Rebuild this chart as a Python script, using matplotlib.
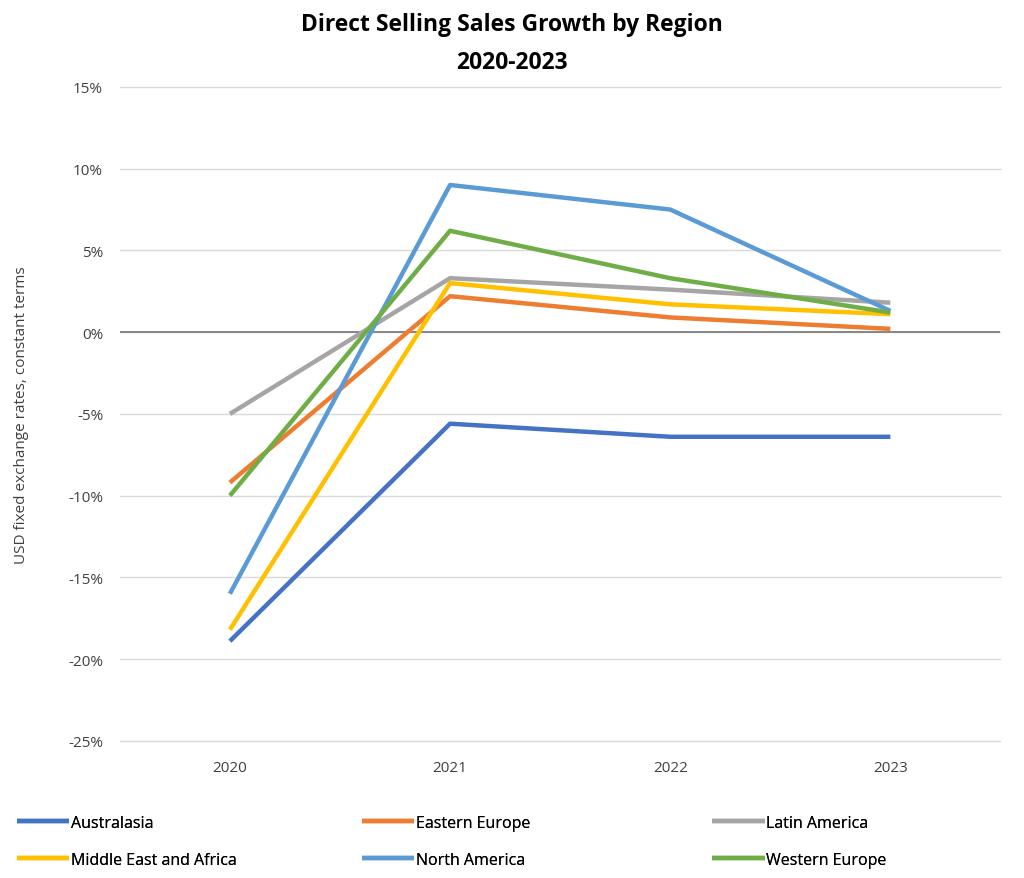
import matplotlib.pyplot as plt
from matplotlib.ticker import FuncFormatter

plt.rcParams['font.family'] = ['Open Sans', 'DejaVu Sans']

years = ["2020", "2021", "2022", "2023"]
australasia = [-18.9, -5.6, -6.4, -6.4]
eastern_europe = [-9.2, 2.2, 0.9, 0.2]
latin_america = [-5.0, 3.3, 2.6, 1.8]
middle_east_africa = [-18.2, 3.0, 1.7, 1.1]
north_america = [-16.0, 9.0, 7.5, 1.3]
western_europe = [-10.0, 6.2, 3.3, 1.2]

series = [
    ("Australasia", australasia, "#4472C4"),
    ("Eastern Europe", eastern_europe, "#ED7D31"),
    ("Latin America", latin_america, "#A5A5A5"),
    ("Middle East and Africa", middle_east_africa, "#FFC000"),
    ("North America", north_america, "#5B9BD5"),
    ("Western Europe", western_europe, "#70AD47"),
]

fig = plt.figure(figsize=(10.24, 8.79), dpi=100)
ax = fig.add_axes([0.117, 0.156, 0.86, 0.744])

x = list(range(len(years)))
lines = {}
for name, vals, color in series:
    ln, = ax.plot(x, vals, color=color, lw=3.2, label=name, solid_capstyle="butt")
    lines[name] = ln

ax.set_xlim(-0.5, 3.5)
ax.set_ylim(-25, 15)
ax.set_yticks(range(-25, 16, 5))
ax.yaxis.set_major_formatter(FuncFormatter(lambda v, p: f"{int(v)}%"))
ax.set_xticks(x)
ax.set_xticklabels(years)
ax.grid(axis="y", color="#D9D9D9", lw=1, clip_on=False)
ax.set_axisbelow(True)
ax.axhline(0, color="#7F7F7F", lw=1.3, zorder=1)
for s in ax.spines.values():
    s.set_visible(False)
ax.tick_params(length=0, labelsize=11, colors="#404040", pad=12)
ax.tick_params(axis="x", pad=14)
ax.set_ylabel("USD fixed exchange rates, constant terms", fontsize=11, color="#404040")
ax.yaxis.set_label_coords(-0.103, 0.5)

fig.suptitle("Direct Selling Sales Growth by Region\n2020-2023", fontsize=16.5,
             fontweight="bold", y=0.985, linespacing=1.75)

# legend laid out as three fixed columns, two rows each
columns = [["Australasia", "Middle East and Africa"],
           ["Eastern Europe", "North America"],
           ["Latin America", "Western Europe"]]
col_x = [0.006, 0.343, 0.685]
for names, cx in zip(columns, col_x):
    leg = fig.legend([lines[n] for n in names], names, loc="lower left",
                     bbox_to_anchor=(cx, 0.0), ncol=1, frameon=False, fontsize=11.5,
                     handlelength=3.3, handletextpad=0.1,
                     labelspacing=1.3, borderaxespad=0.25)
    fig.add_artist(leg)

fig.savefig("out.png", dpi=100)
